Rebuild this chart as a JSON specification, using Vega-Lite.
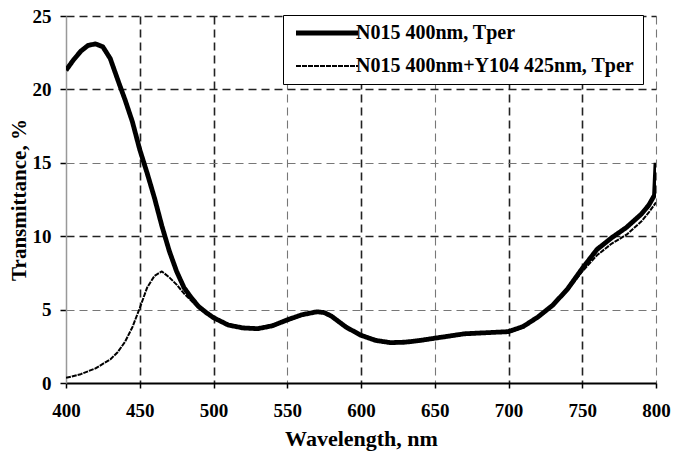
{
  "$schema": "https://vega.github.io/schema/vega-lite/v6.json",
  "width": 590,
  "height": 367,
  "autosize": {"type": "none"},
  "padding": {"left": 66, "top": 16, "right": 32, "bottom": 74},
  "background": "white",
  "config": {
    "view": {"stroke": null},
    "font": "Liberation Serif",
    "legend": {
      "orient": "none",
      "legendX": 217,
      "legendY": -1,
      "title": null,
      "padding": 8,
      "fillColor": "white",
      "strokeColor": "black",
      "labelFont": "Liberation Serif",
      "labelFontWeight": "bold",
      "labelFontSize": 20,
      "labelColor": "black",
      "labelLimit": 0,
      "rowPadding": 13,
      "symbolType": "M-1,0L11.4,0",
      "symbolSize": 100,
      "labelOffset": 45,
      "symbolStrokeColor": "black"
    }
  },
  "data": {
    "values": [
      {"series": "N015 400nm, Tper", "wl": 400, "T": 21.3},
      {"series": "N015 400nm, Tper", "wl": 405, "T": 22.0},
      {"series": "N015 400nm, Tper", "wl": 410, "T": 22.6},
      {"series": "N015 400nm, Tper", "wl": 415, "T": 23.0},
      {"series": "N015 400nm, Tper", "wl": 420, "T": 23.1},
      {"series": "N015 400nm, Tper", "wl": 425, "T": 22.9},
      {"series": "N015 400nm, Tper", "wl": 430, "T": 22.1},
      {"series": "N015 400nm, Tper", "wl": 436, "T": 20.4},
      {"series": "N015 400nm, Tper", "wl": 440, "T": 19.3},
      {"series": "N015 400nm, Tper", "wl": 445, "T": 17.8},
      {"series": "N015 400nm, Tper", "wl": 450, "T": 15.9},
      {"series": "N015 400nm, Tper", "wl": 455, "T": 14.3},
      {"series": "N015 400nm, Tper", "wl": 460, "T": 12.6},
      {"series": "N015 400nm, Tper", "wl": 465, "T": 10.7},
      {"series": "N015 400nm, Tper", "wl": 470, "T": 9.0},
      {"series": "N015 400nm, Tper", "wl": 475, "T": 7.6},
      {"series": "N015 400nm, Tper", "wl": 480, "T": 6.5},
      {"series": "N015 400nm, Tper", "wl": 485, "T": 5.8},
      {"series": "N015 400nm, Tper", "wl": 490, "T": 5.2},
      {"series": "N015 400nm, Tper", "wl": 495, "T": 4.8},
      {"series": "N015 400nm, Tper", "wl": 500, "T": 4.45},
      {"series": "N015 400nm, Tper", "wl": 510, "T": 3.95},
      {"series": "N015 400nm, Tper", "wl": 520, "T": 3.75},
      {"series": "N015 400nm, Tper", "wl": 530, "T": 3.7},
      {"series": "N015 400nm, Tper", "wl": 540, "T": 3.9},
      {"series": "N015 400nm, Tper", "wl": 550, "T": 4.3},
      {"series": "N015 400nm, Tper", "wl": 560, "T": 4.65},
      {"series": "N015 400nm, Tper", "wl": 570, "T": 4.85},
      {"series": "N015 400nm, Tper", "wl": 575, "T": 4.8},
      {"series": "N015 400nm, Tper", "wl": 580, "T": 4.55},
      {"series": "N015 400nm, Tper", "wl": 590, "T": 3.8},
      {"series": "N015 400nm, Tper", "wl": 600, "T": 3.25},
      {"series": "N015 400nm, Tper", "wl": 610, "T": 2.9},
      {"series": "N015 400nm, Tper", "wl": 620, "T": 2.75},
      {"series": "N015 400nm, Tper", "wl": 630, "T": 2.78},
      {"series": "N015 400nm, Tper", "wl": 640, "T": 2.9},
      {"series": "N015 400nm, Tper", "wl": 650, "T": 3.05},
      {"series": "N015 400nm, Tper", "wl": 660, "T": 3.2},
      {"series": "N015 400nm, Tper", "wl": 670, "T": 3.35},
      {"series": "N015 400nm, Tper", "wl": 680, "T": 3.4},
      {"series": "N015 400nm, Tper", "wl": 690, "T": 3.45},
      {"series": "N015 400nm, Tper", "wl": 700, "T": 3.5},
      {"series": "N015 400nm, Tper", "wl": 710, "T": 3.85},
      {"series": "N015 400nm, Tper", "wl": 720, "T": 4.5},
      {"series": "N015 400nm, Tper", "wl": 730, "T": 5.3},
      {"series": "N015 400nm, Tper", "wl": 740, "T": 6.4},
      {"series": "N015 400nm, Tper", "wl": 750, "T": 7.8},
      {"series": "N015 400nm, Tper", "wl": 760, "T": 9.1},
      {"series": "N015 400nm, Tper", "wl": 770, "T": 9.9},
      {"series": "N015 400nm, Tper", "wl": 780, "T": 10.6},
      {"series": "N015 400nm, Tper", "wl": 790, "T": 11.5},
      {"series": "N015 400nm, Tper", "wl": 795, "T": 12.1},
      {"series": "N015 400nm, Tper", "wl": 799, "T": 12.8},
      {"series": "N015 400nm, Tper", "wl": 800, "T": 15.0},
      {"series": "N015 400nm+Y104 425nm, Tper", "wl": 400, "T": 0.35},
      {"series": "N015 400nm+Y104 425nm, Tper", "wl": 410, "T": 0.6},
      {"series": "N015 400nm+Y104 425nm, Tper", "wl": 420, "T": 1.0},
      {"series": "N015 400nm+Y104 425nm, Tper", "wl": 430, "T": 1.6},
      {"series": "N015 400nm+Y104 425nm, Tper", "wl": 435, "T": 2.1},
      {"series": "N015 400nm+Y104 425nm, Tper", "wl": 440, "T": 2.8},
      {"series": "N015 400nm+Y104 425nm, Tper", "wl": 445, "T": 3.8},
      {"series": "N015 400nm+Y104 425nm, Tper", "wl": 450, "T": 5.1},
      {"series": "N015 400nm+Y104 425nm, Tper", "wl": 455, "T": 6.5},
      {"series": "N015 400nm+Y104 425nm, Tper", "wl": 460, "T": 7.3},
      {"series": "N015 400nm+Y104 425nm, Tper", "wl": 465, "T": 7.6},
      {"series": "N015 400nm+Y104 425nm, Tper", "wl": 470, "T": 7.2},
      {"series": "N015 400nm+Y104 425nm, Tper", "wl": 475, "T": 6.7},
      {"series": "N015 400nm+Y104 425nm, Tper", "wl": 480, "T": 6.1},
      {"series": "N015 400nm+Y104 425nm, Tper", "wl": 485, "T": 5.6},
      {"series": "N015 400nm+Y104 425nm, Tper", "wl": 490, "T": 5.1},
      {"series": "N015 400nm+Y104 425nm, Tper", "wl": 495, "T": 4.75},
      {"series": "N015 400nm+Y104 425nm, Tper", "wl": 500, "T": 4.4},
      {"series": "N015 400nm+Y104 425nm, Tper", "wl": 510, "T": 3.9},
      {"series": "N015 400nm+Y104 425nm, Tper", "wl": 520, "T": 3.7},
      {"series": "N015 400nm+Y104 425nm, Tper", "wl": 530, "T": 3.65},
      {"series": "N015 400nm+Y104 425nm, Tper", "wl": 540, "T": 3.85},
      {"series": "N015 400nm+Y104 425nm, Tper", "wl": 550, "T": 4.25},
      {"series": "N015 400nm+Y104 425nm, Tper", "wl": 560, "T": 4.6},
      {"series": "N015 400nm+Y104 425nm, Tper", "wl": 570, "T": 4.8},
      {"series": "N015 400nm+Y104 425nm, Tper", "wl": 575, "T": 4.75},
      {"series": "N015 400nm+Y104 425nm, Tper", "wl": 580, "T": 4.5},
      {"series": "N015 400nm+Y104 425nm, Tper", "wl": 590, "T": 3.75},
      {"series": "N015 400nm+Y104 425nm, Tper", "wl": 600, "T": 3.2},
      {"series": "N015 400nm+Y104 425nm, Tper", "wl": 610, "T": 2.85},
      {"series": "N015 400nm+Y104 425nm, Tper", "wl": 620, "T": 2.7},
      {"series": "N015 400nm+Y104 425nm, Tper", "wl": 630, "T": 2.73},
      {"series": "N015 400nm+Y104 425nm, Tper", "wl": 640, "T": 2.85},
      {"series": "N015 400nm+Y104 425nm, Tper", "wl": 650, "T": 3.0},
      {"series": "N015 400nm+Y104 425nm, Tper", "wl": 660, "T": 3.15},
      {"series": "N015 400nm+Y104 425nm, Tper", "wl": 670, "T": 3.3},
      {"series": "N015 400nm+Y104 425nm, Tper", "wl": 680, "T": 3.35},
      {"series": "N015 400nm+Y104 425nm, Tper", "wl": 690, "T": 3.4},
      {"series": "N015 400nm+Y104 425nm, Tper", "wl": 700, "T": 3.45},
      {"series": "N015 400nm+Y104 425nm, Tper", "wl": 710, "T": 3.8},
      {"series": "N015 400nm+Y104 425nm, Tper", "wl": 720, "T": 4.45},
      {"series": "N015 400nm+Y104 425nm, Tper", "wl": 730, "T": 5.25},
      {"series": "N015 400nm+Y104 425nm, Tper", "wl": 740, "T": 6.3},
      {"series": "N015 400nm+Y104 425nm, Tper", "wl": 750, "T": 7.6},
      {"series": "N015 400nm+Y104 425nm, Tper", "wl": 760, "T": 8.7},
      {"series": "N015 400nm+Y104 425nm, Tper", "wl": 770, "T": 9.5},
      {"series": "N015 400nm+Y104 425nm, Tper", "wl": 780, "T": 10.1},
      {"series": "N015 400nm+Y104 425nm, Tper", "wl": 790, "T": 11.0},
      {"series": "N015 400nm+Y104 425nm, Tper", "wl": 795, "T": 11.6},
      {"series": "N015 400nm+Y104 425nm, Tper", "wl": 800, "T": 12.3}
    ]
  },
  "mark": {"type": "line", "color": "black", "strokeCap": "butt", "strokeJoin": "round", "clip": true},
  "encoding": {
    "x": {
      "field": "wl",
      "type": "quantitative",
      "scale": {"domain": [400, 800], "nice": false, "zero": false},
      "axis": {
        "title": "Wavelength, nm",
        "values": [400, 450, 500, 550, 600, 650, 700, 750, 800],
        "labelFont": "Liberation Serif",
        "labelFontWeight": "bold",
        "labelFontSize": 19,
        "labelColor": "black",
        "labelPadding": 13,
        "labelFlush": false,
        "titleFont": "Liberation Serif",
        "titleFontWeight": "bold",
        "titleFontSize": 22,
        "titleColor": "black",
        "titlePadding": 8,
        "domainColor": "black",
        "domainWidth": 2,
        "tickColor": "black",
        "tickSize": 5,
        "tickWidth": 1.5,
        "grid": true,
        "gridDash": [8, 5],
        "gridColor": {"condition": {"test": "indexof([450,500,600,700,750], datum.value) >= 0", "value": "#222222"}, "value": "#777777"},
        "gridWidth": {"condition": {"test": "indexof([450,500,600,700,750], datum.value) >= 0", "value": 1.6}, "value": 1.1},
        "gridOpacity": {"condition": {"test": "datum.value == 400", "value": 0}, "value": 1}
      }
    },
    "y": {
      "field": "T",
      "type": "quantitative",
      "scale": {"domain": [0, 25], "nice": false},
      "axis": {
        "title": "Transmittance, %",
        "values": [0, 5, 10, 15, 20, 25],
        "labelFont": "Liberation Serif",
        "labelFontWeight": "bold",
        "labelFontSize": 19,
        "labelColor": "black",
        "labelPadding": 9,
        "labelFlush": false,
        "titleFont": "Liberation Serif",
        "titleFontWeight": "bold",
        "titleFontSize": 21,
        "titleColor": "black",
        "titlePadding": 3,
        "domainColor": "#999999",
        "domainWidth": 1.5,
        "tickColor": "black",
        "tickSize": 6,
        "tickWidth": 1.5,
        "grid": true,
        "gridDash": [8, 5],
        "gridColor": {"condition": {"test": "indexof([25,20,10], datum.value) >= 0", "value": "#222222"}, "value": "#777777"},
        "gridWidth": {"condition": {"test": "indexof([25,20,10], datum.value) >= 0", "value": 1.6}, "value": 1.1},
        "gridOpacity": {"condition": {"test": "datum.value == 0", "value": 0}, "value": 1}
      }
    },
    "strokeDash": {
      "field": "series",
      "type": "nominal",
      "scale": {"domain": ["N015 400nm, Tper", "N015 400nm+Y104 425nm, Tper"], "range": [[1, 0], [5, 1]]},
      "legend": {"title": null}
    },
    "strokeWidth": {
      "field": "series",
      "type": "nominal",
      "scale": {"domain": ["N015 400nm, Tper", "N015 400nm+Y104 425nm, Tper"], "range": [4.8, 2]},
      "legend": {"title": null}
    }
  }
}
